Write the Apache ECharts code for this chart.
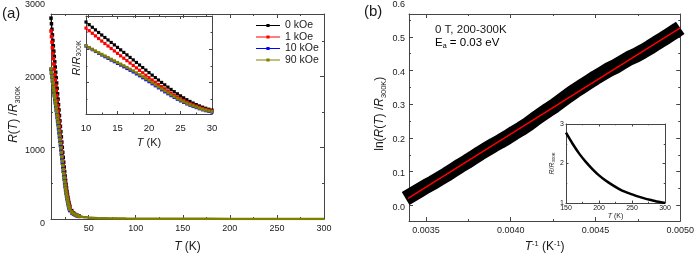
<!DOCTYPE html>
<html>
<head>
<meta charset="utf-8">
<script src="https://cdn.jsdelivr.net/npm/echarts@6/dist/echarts.min.js"></script>
<style>
  html, body { margin: 0; padding: 0; background: #fff; }
  #chart { width: 697px; height: 258px; }
</style>
</head>
<body>
<div id="chart"></div>
<script>
// (a) R(T)/R300K vs T for four fields
const temps = [10, 10.5, 11, 11.5, 12, 12.5, 13, 13.5, 14, 14.5, 15, 15.5, 16, 16.5, 17, 17.5, 18, 18.5, 19, 19.5,
  20, 20.5, 21, 21.5, 22, 22.5, 23, 23.5, 24, 24.5, 25, 25.5, 26, 26.5, 27, 27.5, 28, 28.5, 29, 29.5, 30,
  32, 34, 36, 38, 40, 45, 50, 60, 70, 80, 90, 100, 120, 140, 160, 180, 200, 220, 240, 260, 280, 300];
const r0kOe = [2819, 2740, 2662, 2584, 2505, 2430, 2355, 2281, 2206, 2133, 2059, 1984, 1908, 1833, 1757, 1682, 1606, 1530, 1454, 1377,
  1301, 1226, 1153, 1079, 1007, 935, 866, 797, 730, 666, 604, 545, 489, 437, 388, 343, 302, 265, 232, 203, 178,
  118, 84, 64, 51, 42, 29, 21, 13, 9.5, 7.5, 6.2, 5.3, 4.1, 3.3, 2.5, 2.05, 1.7, 1.46, 1.28, 1.16, 1.07, 1.0];
const r1kOe = [2638, 2560, 2482, 2403, 2325, 2249, 2175, 2100, 2026, 1952, 1879, 1806, 1734, 1661, 1589, 1516, 1444, 1370, 1297, 1223,
  1151, 1082, 1015, 947, 881, 816, 752, 689, 628, 570, 514, 464, 417, 375, 334, 298, 262, 229, 199, 175, 153,
  104, 76, 59, 47, 39, 27, 20, 12.5, 9.2, 7.3, 6.0, 5.2, 4.0, 3.2, 2.5, 2.05, 1.7, 1.46, 1.28, 1.16, 1.07, 1.0];
const r10kOe = [2099, 2045, 1991, 1936, 1882, 1830, 1779, 1729, 1678, 1629, 1579, 1528, 1476, 1425, 1373, 1322, 1264, 1207, 1148, 1089,
  1031, 968, 907, 845, 785, 725, 668, 611, 557, 504, 454, 407, 363, 324, 286, 253, 218, 186, 160, 137, 118,
  86, 66, 52, 43, 36, 25, 19, 12, 8.8, 7.0, 5.8, 5.0, 3.9, 3.1, 2.45, 2.0, 1.68, 1.45, 1.27, 1.15, 1.06, 1.0];
const r90kOe = [2108, 2055, 2003, 1950, 1898, 1849, 1800, 1751, 1702, 1654, 1606, 1556, 1506, 1456, 1404, 1353, 1295, 1237, 1178, 1119,
  1061, 998, 935, 873, 813, 752, 693, 635, 580, 526, 476, 428, 382, 342, 304, 270, 233, 201, 175, 152, 133,
  96, 72, 56, 46, 38, 26, 19.5, 12, 8.9, 7.0, 5.8, 5.0, 3.9, 3.1, 2.45, 2.0, 1.68, 1.45, 1.27, 1.15, 1.06, 1.0];
const fieldNames = ['0 kOe', '1 kOe', '10 kOe', '90 kOe'];
const fieldColors = ['#000000', '#ff0000', '#0000ff', '#808000'];

// (b) ln(R/R300K) vs 1/T, 200-300 K, with linear fit
const invT = [0.00338, 0.00342, 0.00346, 0.00350, 0.00354, 0.00358, 0.00362, 0.00366, 0.00370, 0.00374,
  0.00378, 0.00382, 0.00386, 0.00390, 0.00394, 0.00398, 0.00402, 0.00406, 0.00410, 0.00414,
  0.00418, 0.00422, 0.00426, 0.00430, 0.00434, 0.00438, 0.00442, 0.00446, 0.00450, 0.00454,
  0.00458, 0.00462, 0.00466, 0.00470, 0.00474, 0.00478, 0.00482, 0.00486, 0.00490, 0.00494, 0.00498, 0.00500];
const lnR = [0.020, 0.032, 0.044, 0.056, 0.067, 0.079, 0.091, 0.104, 0.117, 0.129,
  0.142, 0.155, 0.167, 0.179, 0.190, 0.202, 0.215, 0.227, 0.240, 0.255,
  0.269, 0.283, 0.296, 0.311, 0.326, 0.340, 0.353, 0.366, 0.379, 0.391,
  0.403, 0.413, 0.425, 0.437, 0.446, 0.457, 0.469, 0.482, 0.494, 0.507, 0.520, 0.527];
const fitX = [0.00333, 0.00500];
const fitY = [0.0, 0.527];

// (b) inset: R/R300K, 150-300 K
const insetT = [150, 160, 170, 180, 190, 200, 210, 220, 230, 240, 250, 260, 270, 280, 290, 300];
const insetR = [2.78, 2.50, 2.25, 2.04, 1.86, 1.70, 1.57, 1.46, 1.36, 1.28, 1.22, 1.16, 1.11, 1.07, 1.03, 1.00];

// tick positions
const aXMajor = [50, 100, 150, 200, 250, 300];
const aXMinor = [25, 75, 125, 175, 225, 275];
const aYMajor = [1000, 2000];
const aYMinor = [500, 1500, 2500];
const aYLabels = [0, 1000, 2000, 3000];
const aiXMajor = [10, 15, 20, 25, 30];
const aiXMinor = [12.5, 17.5, 22.5, 27.5];
const aiYMajor = [1000, 2000];
const aiYMinor = [500, 1500, 2500];
const bXMajor = [0.0035, 0.0040, 0.0045, 0.0050];
const bXMinor = [0.00375, 0.00425, 0.00475];
const bYMajor = [0, 0.1, 0.2, 0.3, 0.4, 0.5];
const bYMinor = [0.05, 0.15, 0.25, 0.35, 0.45, 0.55];
const bYLabels = [0, 0.1, 0.2, 0.3, 0.4, 0.5, 0.6];
const biXMajor = [150, 200, 250, 300];
const biXMinor = [175, 225, 275];
const biYMajor = [1, 2, 3];
const biYMinor = [1.5, 2.5];

const FONT = '"Liberation Sans", Arial, sans-serif';
const AX = '#444';
const TXT = '#1a1a1a';

function rich(size) {
  return {
    i: { fontFamily: FONT, fontSize: size, fontStyle: 'italic', lineHeight: size + 2, color: TXT },
    n: { fontFamily: FONT, fontSize: size, lineHeight: size + 2, color: TXT },
    s: { fontFamily: FONT, fontSize: size * 0.62, lineHeight: size * 0.4, verticalAlign: 'bottom', color: TXT },
    u: { fontFamily: FONT, fontSize: size * 0.62, lineHeight: size * 0.6, verticalAlign: 'top', color: TXT }
  };
}

const xAxes = [];
const yAxes = [];

// box axis with mirrored side and minor ticks; returns index of the main axis
function frame(list, dim, grid, min, max, majors, minors, opt) {
  const mainPos = dim === 'x' ? 'bottom' : 'left';
  const mirrorPos = dim === 'x' ? 'top' : 'right';
  const len = opt.tick;
  const base = {
    type: 'value', gridIndex: grid, min: min, max: max,
    splitLine: { show: false },
    axisLine: { show: true, onZero: false, lineStyle: { color: AX, width: 1 } },
    axisLabel: { show: false },
    axisTick: { show: true, inside: true, length: len, customValues: majors, lineStyle: { color: AX } }
  };
  const first = list.length;
  const mainAxis = Object.assign({}, base, { position: mainPos });
  if (opt.labels) {
    mainAxis.axisLabel = {
      show: true, customValues: opt.labels, margin: opt.margin,
      fontFamily: FONT, fontSize: opt.font, color: TXT,
      formatter: opt.fmt || (v => String(v))
    };
  }
  if (opt.name) {
    mainAxis.name = opt.name;
    mainAxis.nameLocation = 'middle';
    mainAxis.nameGap = opt.nameGap;
    mainAxis.nameTextStyle = { rich: rich(opt.nameSize), padding: opt.namePad || 0 };
  }
  list.push(mainAxis);
  list.push(Object.assign({}, base, { position: mirrorPos }));
  const minorBase = Object.assign({}, base, {
    axisLine: { show: false, onZero: false },
    axisTick: { show: true, inside: true, length: len / 2, customValues: minors, lineStyle: { color: AX } }
  });
  list.push(Object.assign({}, minorBase, { position: mainPos }));
  list.push(Object.assign({}, minorBase, { position: mirrorPos }));
  return first;
}

// grids: 0 (a) main, 1 (a) y labels, 2 (a) inset, 3 (b) main, 4 (b) y labels, 5 (b) inset
const grids = [
  { left: 51, right: 373, top: 14, bottom: 34 },
  { left: 51, right: 373, top: 5, bottom: 34 },
  { left: 86, right: 485, top: 16, bottom: 144 },
  { left: 409, right: 15, top: 14, bottom: 35 },
  { left: 409, right: 15, top: 3, bottom: 35 },
  { left: 566, right: 32, top: 124, bottom: 55 }
];

const ax0 = frame(xAxes, 'x', 0, 10, 300, aXMajor, aXMinor, {
  tick: 4, labels: aXMajor, margin: 5, font: 9,
  name: '{i|T}{n| (K)}', nameGap: 21, nameSize: 12
});
const ay0 = frame(yAxes, 'y', 0, 0, 2877, aYMajor, aYMinor, { tick: 4 });

xAxes.push({ type: 'value', gridIndex: 1, min: 0, max: 1, show: false });
yAxes.push({
  type: 'value', gridIndex: 1, min: 0, max: 3000, position: 'left',
  axisLine: { show: false }, axisTick: { show: false }, splitLine: { show: false },
  axisLabel: { customValues: aYLabels, margin: 6, fontFamily: FONT, fontSize: 9, color: TXT,
    formatter: v => String(v) },
  name: '{i|R}{n|(}{i|T}{n|) /}{i|R}{s|300K}', nameLocation: 'middle', nameGap: 29,
  nameTextStyle: { rich: rich(12) }
});

const ax2 = frame(xAxes, 'x', 2, 10, 30, aiXMajor, aiXMinor, {
  tick: 3, labels: aiXMajor, margin: 9, font: 9.5,
  name: '{i|T}{n| (K)}', nameGap: 22, nameSize: 11
});
const ay2 = frame(yAxes, 'y', 2, 60, 3000, aiYMajor, aiYMinor, {
  tick: 3, name: '{i|R}{n|/}{i|R}{s|300K}', nameGap: 3, nameSize: 11, namePad: [0, 0, 0, 14]
});

const ax3 = frame(xAxes, 'x', 3, 0.0034, 0.0050, bXMajor, bXMinor, {
  tick: 4, labels: bXMajor, margin: 5, font: 9, fmt: v => Number(v).toFixed(4),
  name: '{i|T}{u|-1}{n| (K}{u|-1}{n|)}', nameGap: 16, nameSize: 12
});
const ay3 = frame(yAxes, 'y', 3, -0.047, 0.568, bYMajor, bYMinor, { tick: 4 });

xAxes.push({ type: 'value', gridIndex: 4, min: 0, max: 1, show: false });
yAxes.push({
  type: 'value', gridIndex: 4, min: -0.047, max: 0.6, position: 'left',
  axisLine: { show: false }, axisTick: { show: false }, splitLine: { show: false },
  axisLabel: { customValues: bYLabels, margin: 4, fontFamily: FONT, fontSize: 9, color: TXT,
    formatter: v => Number(v).toFixed(1) },
  name: '{n|ln(}{i|R}{n|(}{i|T}{n|) /}{i|R}{s|300K}{n|)}', nameLocation: 'middle', nameGap: 22,
  nameTextStyle: { rich: rich(12) }
});

const ax5 = frame(xAxes, 'x', 5, 150, 300, biXMajor, biXMinor, {
  tick: 2.5, labels: biXMajor, margin: 2, font: 7,
  name: '{i|T}{n| (K)}', nameGap: 9, nameSize: 7
});
const ay5 = frame(yAxes, 'y', 5, 1, 3, biYMajor, biYMinor, {
  tick: 2.5, labels: biYMajor, margin: 2, font: 7,
  name: '{i|R}{n|/}{i|R}{s|300K}', nameGap: 7, nameSize: 7
});

const fieldData = [r0kOe, r1kOe, r10kOe, r90kOe];
const series = [];
fieldData.forEach((vals, k) => {
  series.push({
    name: fieldNames[k], type: 'line', xAxisIndex: ax0, yAxisIndex: ay0,
    data: temps.map((t, i) => [t, vals[i]]),
    symbol: 'rect', symbolSize: v => (v[0] > 40 ? 0 : 3.5), color: fieldColors[k],
    lineStyle: { width: k === 3 ? 2.5 : 1.2, color: fieldColors[k] },
    itemStyle: { color: fieldColors[k] }
  });
});
fieldData.forEach((vals, k) => {
  series.push({
    name: fieldNames[k], type: 'line', xAxisIndex: ax2, yAxisIndex: ay2,
    data: temps.slice(0, 41).map((t, i) => [t, vals[i]]),
    symbol: 'rect', symbolSize: 3.2, color: fieldColors[k],
    lineStyle: { width: 0.8, color: fieldColors[k] },
    itemStyle: { color: fieldColors[k] }
  });
});
series.push({
  type: 'line', xAxisIndex: ax3, yAxisIndex: ay3,
  data: invT.map((x, i) => [x, lnR[i]]),
  symbol: 'none', color: '#000',
  lineStyle: { width: 15, color: '#000' }
});
series.push({
  type: 'line', xAxisIndex: ax3, yAxisIndex: ay3,
  data: fitX.map((x, i) => [x, fitY[i]]),
  symbol: 'none', lineStyle: { width: 1.5, color: '#ff0000' }, z: 5
});
series.push({
  type: 'line', xAxisIndex: ax5, yAxisIndex: ay5,
  data: insetT.map((t, i) => [t, insetR[i]]),
  symbol: 'none', smooth: 0.3, lineStyle: { width: 2.5, color: '#000' }
});

const legendIcon = 'path://M0,4.5H24V5.5H0Z M10.4,3.4H13.6V6.6H10.4Z';

const chart = echarts.init(document.getElementById('chart'), null, { renderer: 'canvas' });
chart.setOption({
  animation: false,
  backgroundColor: '#fff',
  grid: grids,
  xAxis: xAxes,
  yAxis: yAxes,
  legend: {
    data: fieldNames.map(n => ({ name: n, icon: legendIcon })),
    orient: 'vertical', left: 251, top: 15,
    itemWidth: 24, itemHeight: 10, itemGap: 0.5, selectedMode: false,
    textStyle: { fontFamily: FONT, fontSize: 10.5, color: TXT }
  },
  graphic: [
    { type: 'text', left: 2, top: 6, style: { text: '(a)', font: '15px "Liberation Sans", Arial', fill: TXT } },
    { type: 'text', left: 364, top: 4, style: { text: '(b)', font: '15px "Liberation Sans", Arial', fill: TXT } },
    { type: 'text', left: 435, top: 24, style: { text: '0 T, 200-300K', font: '11.5px "Liberation Sans", Arial', fill: TXT } },
    { type: 'text', left: 435, top: 37, style: { text: '{n|E}{s|a}{n| = 0.03 eV}', rich: rich(11.5) } }
  ],
  series: series
});
</script>
</body>
</html>
